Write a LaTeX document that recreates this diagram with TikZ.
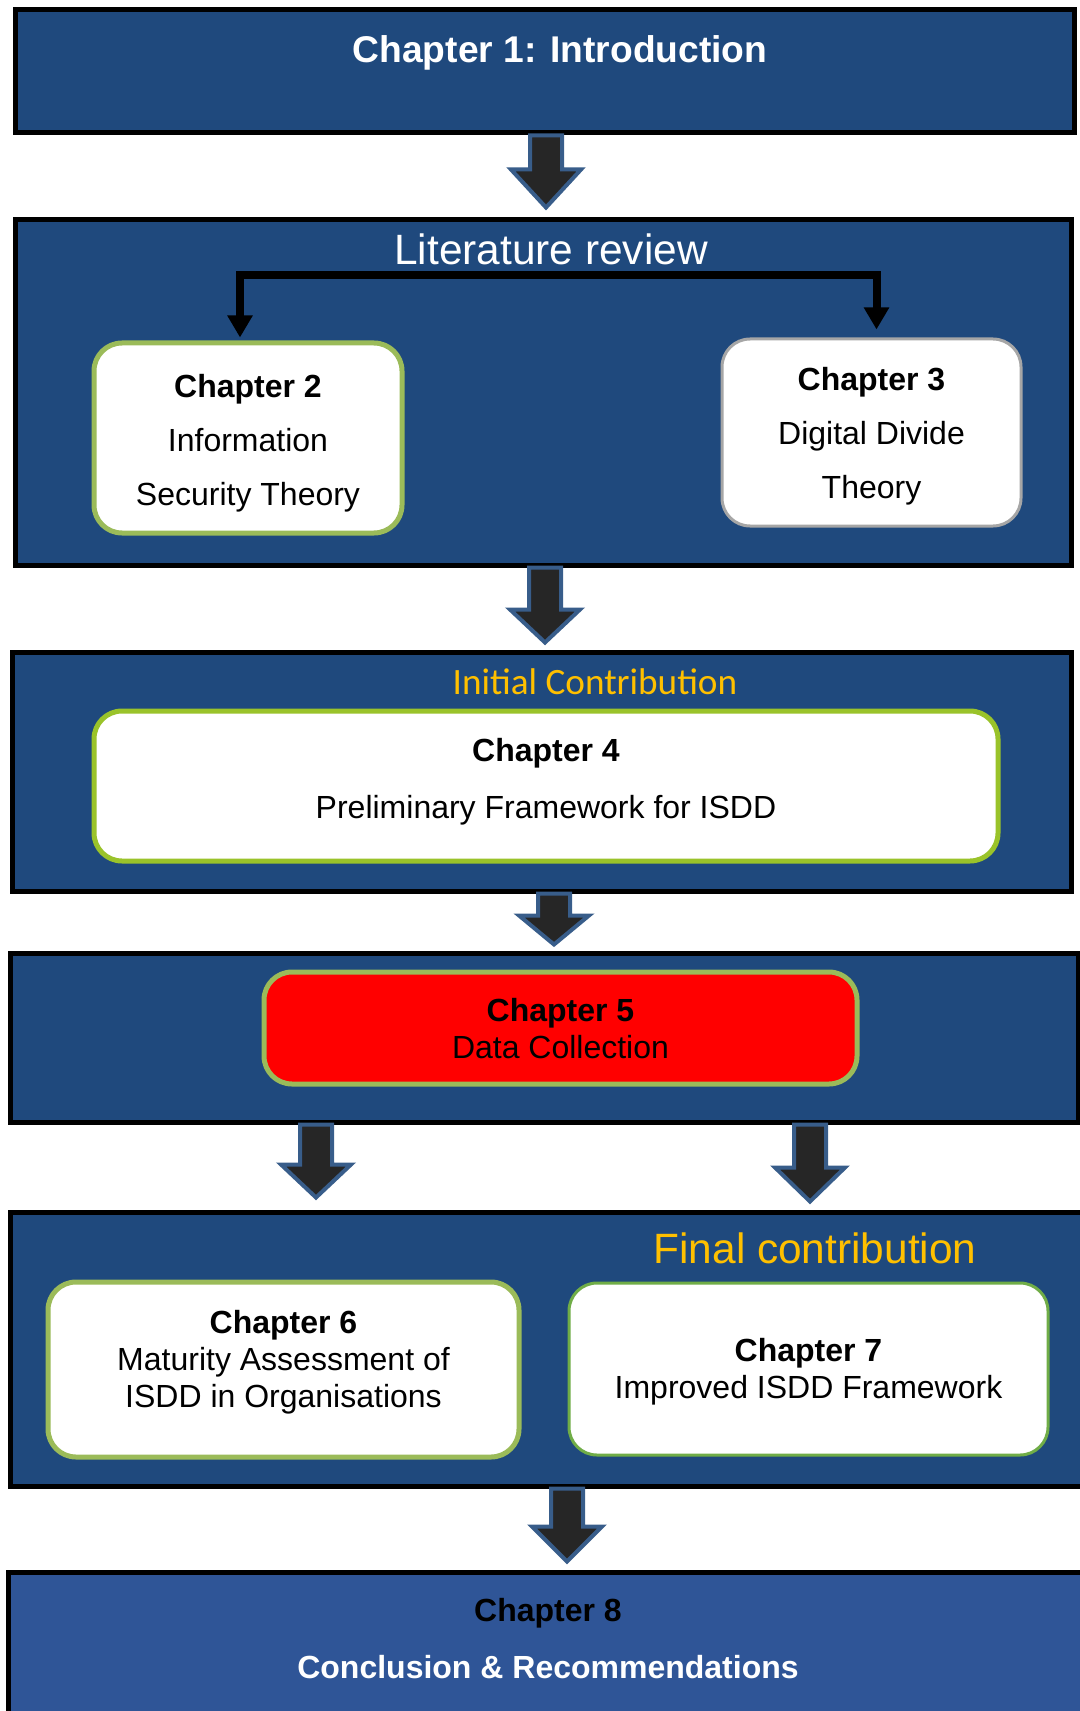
\documentclass[tikz,border=0pt]{standalone}
\usepackage{fontspec}
\setmainfont{Liberation Sans}
\newfontfamily\calibri{Carlito}
\usetikzlibrary{arrows.meta,calc,fit}
\definecolor{stagebg}{HTML}{1F497D}
\definecolor{lastbg}{HTML}{2F5597}
\definecolor{olivegreen}{HTML}{9BBB59}
\definecolor{limegreen}{HTML}{9AC32A}
\definecolor{leafgreen}{HTML}{70AD47}
\definecolor{boxgray}{HTML}{A6A6A6}
\definecolor{gold}{HTML}{FFC000}
\definecolor{arrowfill}{HTML}{262626}
\definecolor{arrowedge}{HTML}{385D8A}

% fat down arrow: tail, tip, head length
\newcommand{\blockarrow}[3]{%
  \draw[arrowbody] ($(#1)+(-16,0)$) -- ($(#2)+(-16,-#3)$) -- ($(#2)+(-35,-#3)$) -- (#2)
    -- ($(#2)+(35,-#3)$) -- ($(#2)+(16,-#3)$) -- ($(#1)+(16,0)$) -- cycle;}

\begin{document}
\begin{tikzpicture}[x=0.5pt,y=-0.5pt,
  stage/.style={draw=black,line width=2.5pt,fill=stagebg,inner sep=0pt},
  chbox/.style={fill=white,rounded corners=14pt,line width=2.5pt,inner sep=0pt},
  boxtext/.style={inner sep=0pt,align=center,font=\fontsize{16}{27}\selectfont},
  tighttext/.style={boxtext,font=\fontsize{16}{18.5}\selectfont},
  heading/.style={inner sep=0pt,font=\fontsize{21.2}{25}\selectfont},
  arrowbody/.style={fill=arrowfill,draw=arrowedge,line width=2pt},
  fork/.style={draw=black,line width=4pt,
    {Triangle[length=11pt,width=12pt]}-{Triangle[length=11pt,width=12pt]}}]
  \useasboundingbox (0,0) rectangle (1080,1711);
  \clip (0,0) rectangle (1080,1711);

  % stages
  \node[stage,fit={(15,10) (1074,133)}] (intro) {};
  \node[font=\fontsize{18.6}{22}\bfseries,text=white] (introtitle) at (560,53) {Chapter 1: Introduction};

  \node[stage,fit={(15,220) (1071,565)}] (litrev) {};
  \node[heading,text=white] (littitle) at (551,249) {Literature review};

  \node[stage,fit={(12,652) (1071,891)}] (initial) {};
  \node[inner sep=0pt,text=gold,font=\calibri\fontsize{18.6}{22}\selectfont] (inittitle) at (595,682) {Initial Contribution};

  \node[stage,fit={(10,953) (1078,1122)}] (collect) {};

  \node[stage,fit={(10,1212) (1095,1486)}] (final) {};
  \node[heading,text=gold] (finaltitle) at (815,1248) {Final contribution};

  \node[stage,fill=lastbg,fit={(8,1572) (1095,1730)}] (concl) {};
  \node[font=\fontsize{16}{20}\bfseries] (concltitle) at (548,1613) {Chapter 8};
  \node[font=\fontsize{16}{20}\bfseries,text=white] (concltext) at (548,1667) {Conclusion \& Recommendations};

  % chapter boxes
  \node[chbox,draw=olivegreen,fit={(94,343) (402,533)}] (ch2) {};
  \node[boxtext] (ch2txt) at ($(ch2.center)+(0,5)$) {\textbf{Chapter 2}\\Information\\Security Theory};
  \node[chbox,draw=boxgray,line width=1.5pt,fit={(722,339) (1021,526)}] (ch3) {};
  \node[boxtext] (ch3txt) at ($(ch3.center)+(0,4)$) {\textbf{Chapter 3}\\Digital Divide\\Theory};
  \node[chbox,draw=limegreen,fit={(94,711) (998,861)}] (ch4) {};
  \node[boxtext,font=\fontsize{16}{28.5}\selectfont] (ch4txt) at ($(ch4.center)+(0,-4)$)
    {\textbf{Chapter 4}\\Preliminary Framework for ISDD};
  \node[chbox,fill=red,draw=olivegreen,fit={(264,972) (857,1084)}] (ch5) {};
  \node[tighttext] (ch5txt) at ($(ch5.center)+(0,1)$) {\textbf{Chapter 5}\\Data Collection};
  \node[chbox,draw=olivegreen,fit={(48,1282) (519,1457)}] (ch6) {};
  \node[tighttext] (ch6txt) at ($(ch6.center)+(0,-7)$)
    {\textbf{Chapter 6}\\Maturity Assessment of\\ISDD in Organisations};
  \node[chbox,draw=leafgreen,line width=1.5pt,fit={(569,1283) (1048,1455)}] (ch7) {};
  \node[tighttext] (ch7txt) at ($(ch7.center)+(0,3)$) {\textbf{Chapter 7}\\Improved ISDD Framework};

  % split inside literature review
  \coordinate (forkl) at ($(ch2.north)+(-8,-3)$);
  \coordinate (forkr) at ($(ch3.north)+(5,-8)$);
  \draw[fork] (forkl) -- (forkl |- 0,275) -- (forkr |- 0,275) -- (forkr);

  % flow arrows
  \coordinate (a1s) at (546,0 |- intro.south);
  \coordinate (a1e) at ($(546,0 |- litrev.north)+(0,-10)$);
  \blockarrow{a1s}{a1e}{38}
  \coordinate (a2s) at (545,0 |- litrev.south);
  \coordinate (a2e) at ($(545,0 |- initial.north)+(0,-7)$);
  \blockarrow{a2s}{a2e}{33}
  \coordinate (a3s) at (554,0 |- initial.south);
  \coordinate (a3e) at ($(554,0 |- collect.north)+(0,-6)$);
  \blockarrow{a3s}{a3e}{29}
  \coordinate (a4s) at (316,0 |- collect.south);
  \coordinate (a4e) at ($(316,0 |- final.north)+(0,-12)$);
  \blockarrow{a4s}{a4e}{33}
  \coordinate (a5s) at (810,0 |- collect.south);
  \coordinate (a5e) at ($(810,0 |- final.north)+(0,-8)$);
  \blockarrow{a5s}{a5e}{34}
  \coordinate (a6s) at (567,0 |- final.south);
  \coordinate (a6e) at ($(567,0 |- concl.north)+(0,-8)$);
  \blockarrow{a6s}{a6e}{35}
\end{tikzpicture}
\end{document}
